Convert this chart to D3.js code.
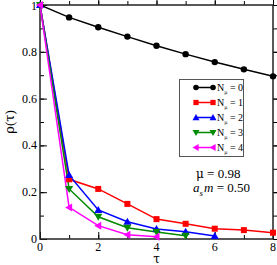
<!DOCTYPE html>
<html>
<head>
<meta charset="utf-8">
<script src="https://cdn.jsdelivr.net/npm/d3@7"></script>
<style>
  body { margin: 0; background: #fff; }
</style>
</head>
<body>
<div id="chart"></div>
<script>
var tau = [0, 1, 2, 3, 4, 5, 6, 7, 8];
var rhoN0 = [1, 0.947, 0.905, 0.865, 0.826, 0.79, 0.756, 0.725, 0.695];
var rhoN1 = [1, 0.255, 0.214, 0.15, 0.085, 0.065, 0.044, 0.038, 0.027];
var rhoN2 = [1, 0.273, 0.124, 0.074, 0.043, 0.031, 0.013];
var rhoN3 = [1, 0.214, 0.095, 0.048, 0.03, 0.014];
var rhoN4 = [1, 0.135, 0.057, 0.018, 0.01];
var seriesNames = ["0", "1", "2", "3", "4"];
var xTicks = [0, 2, 4, 6, 8];
var yTicks = [0, 0.2, 0.4, 0.6, 0.8, 1];

var series = [
  { n: seriesNames[0], vals: rhoN0, color: "#000000", sym: "circle" },
  { n: seriesNames[1], vals: rhoN1, color: "#ff0000", sym: "square" },
  { n: seriesNames[2], vals: rhoN2, color: "#0000ff", sym: "up" },
  { n: seriesNames[3], vals: rhoN3, color: "#008b00", sym: "down" },
  { n: seriesNames[4], vals: rhoN4, color: "#ff00ff", sym: "left" }
];

var serif = "'Liberation Serif', 'Times New Roman', serif";
var greek = "'DejaVu Serif', serif";

var width = 277, height = 265,
  margin = { top: 5, right: 4, bottom: 26, left: 40 };
var w = width - margin.left - margin.right,
  h = height - margin.top - margin.bottom;

var svg = d3.select("#chart").append("svg")
  .attr("width", width).attr("height", height)
  .attr("font-family", serif);
var g = svg.append("g")
  .attr("transform", `translate(${margin.left},${margin.top})`);

var x = d3.scaleLinear().domain([0, 8]).range([0, w]);
var y = d3.scaleLinear().domain([0, 1]).range([h, 0]);

svg.append("clipPath").attr("id", "clip")
  .append("rect").attr("width", w).attr("height", h);

// ticks pointing inward, on all four sides
function tickSet(axisGen, vals, size) {
  return axisGen.tickValues(vals).tickSize(-size).tickFormat("").tickSizeOuter(0);
}
var minorX = d3.range(0, 8.01, 1), minorY = d3.range(0, 1.001, 0.1);
g.append("g").attr("transform", `translate(0,${h})`).call(tickSet(d3.axisBottom(x), minorX, 4));
g.append("g").attr("transform", `translate(0,${h})`).call(tickSet(d3.axisBottom(x), xTicks, 7));
g.append("g").call(tickSet(d3.axisTop(x), minorX, -4));
g.append("g").call(tickSet(d3.axisTop(x), xTicks, -7));
g.append("g").call(tickSet(d3.axisLeft(y), minorY, 4));
g.append("g").call(tickSet(d3.axisLeft(y), yTicks, 7));
g.append("g").attr("transform", `translate(${w},0)`).call(tickSet(d3.axisRight(y), minorY, -4));
g.append("g").attr("transform", `translate(${w},0)`).call(tickSet(d3.axisRight(y), yTicks, -7));
g.selectAll(".domain").remove();
g.selectAll(".tick line").attr("stroke", "#000").attr("stroke-width", 1);

// tick labels
g.selectAll(".xlab").data(xTicks).join("text")
  .attr("x", d => x(d)).attr("y", h + 12)
  .attr("text-anchor", "middle").attr("font-size", 12).text(d => d);
g.selectAll(".ylab").data(yTicks).join("text")
  .attr("x", -3).attr("y", d => y(d) + (d === 1 ? 5 : 4))
  .attr("text-anchor", "end").attr("font-size", 12).text(d => d3.format("~g")(d));

// frame
g.append("rect").attr("width", w).attr("height", h)
  .attr("fill", "none").attr("stroke", "#222").attr("stroke-width", 1.5);

// axis titles
svg.append("text").attr("x", margin.left + x(4)).attr("y", 263)
  .attr("text-anchor", "middle").attr("font-size", 12).attr("font-family", greek).text("τ");
var yl = svg.append("text").attr("transform", "translate(14,122) rotate(-90)")
  .attr("text-anchor", "middle").attr("font-size", 13);
yl.append("tspan").attr("font-family", greek).text("ρ");
yl.append("tspan").text("(");
yl.append("tspan").attr("font-family", greek).text("τ");
yl.append("tspan").text(")");

var line = d3.line().x((d, i) => x(tau[i])).y(d => y(d));

function marker(sel, sym, color, s) {
  if (sym === "circle") {
    sel.append("circle").attr("r", s * 0.8).attr("fill", color);
  } else if (sym === "square") {
    sel.append("rect").attr("x", -s * 0.75).attr("y", -s * 0.75)
      .attr("width", s * 1.5).attr("height", s * 1.5).attr("fill", color);
  } else {
    var pts = {
      up: [[0, -s], [s, s * 0.75], [-s, s * 0.75]],
      down: [[0, s], [s, -s * 0.75], [-s, -s * 0.75]],
      left: [[-s, 0], [s * 0.75, -s], [s * 0.75, s]]
    }[sym];
    sel.append("polygon").attr("points", pts.map(p => p.join(",")).join(" ")).attr("fill", color);
  }
}

var plot = g.append("g").attr("clip-path", "url(#clip)");
series.forEach(s => {
  plot.append("path").datum(s.vals).attr("d", line)
    .attr("fill", "none").attr("stroke", s.color).attr("stroke-width", 1.5);
});
series.forEach(s => {
  g.selectAll(null).data(s.vals).join("g")
    .attr("transform", (d, i) => `translate(${x(tau[i])},${y(d)})`)
    .each(function () { marker(d3.select(this), s.sym, s.color, 4); });
});

// legend
var lx = 179.5, ly = 79.5;
var leg = svg.append("g");
leg.append("rect").attr("x", lx).attr("y", ly).attr("width", 64).attr("height", 77)
  .attr("fill", "#fff").attr("stroke", "#555").attr("stroke-width", 1);
series.forEach((s, i) => {
  var yy = 87.5 + i * 15;
  leg.append("line").attr("x1", 196).attr("x2", 213).attr("y1", yy).attr("y2", yy)
    .attr("stroke", s.color).attr("stroke-width", 1.5);
  [196, 213].forEach(px => {
    var m = leg.append("g").attr("transform", `translate(${px},${yy})`);
    marker(m, s.sym, s.color, 3.5);
  });
  var t = leg.append("text").attr("x", 217).attr("y", yy + 3).attr("font-size", 10);
  t.append("tspan").text("N");
  t.append("tspan").attr("font-size", 5).attr("font-family", greek).attr("dy", 3).text("μ");
  t.append("tspan").attr("dy", -3).text(" = " + s.n);
});

// annotation
var m1 = svg.append("text").attr("x", 196).attr("y", 178).attr("font-size", 13);
m1.append("tspan").attr("font-family", greek).attr("font-size", 12).text("μ");
m1.append("tspan").text(" = 0.98");
var a = svg.append("text").attr("x", 193).attr("y", 192).attr("font-size", 13);
a.append("tspan").attr("font-style", "italic").text("a");
a.append("tspan").attr("font-style", "italic").attr("font-size", 9).attr("dy", 4).text("s");
a.append("tspan").attr("font-style", "italic").attr("dy", -4).attr("dx", 1).text("m");
a.append("tspan").text(" = 0.50");
</script>
</body>
</html>
